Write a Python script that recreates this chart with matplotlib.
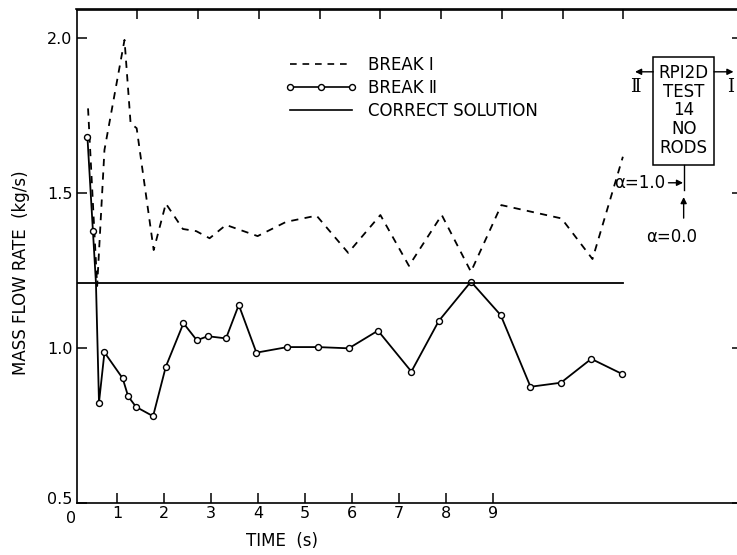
import matplotlib
matplotlib.use('Agg')
import matplotlib.pyplot as plt
import matplotlib.transforms as mtransforms
from matplotlib.lines import Line2D
from matplotlib.patches import Rectangle

plt.rcParams['font.family'] = 'DejaVu Sans'
plt.rcParams['font.size'] = 12

# Break I (dashed curve)
t_break1 = [0.19, 0.34, 0.46, 0.79, 0.89, 0.99, 1.27, 1.47, 1.75, 1.97, 2.19,
            2.46, 2.98, 3.45, 3.95, 4.47, 5.00, 5.47, 6.01, 6.49, 6.99, 7.98,
            8.49, 8.99]
m_break1 = [1.773, 1.20, 1.639, 1.994, 1.725, 1.709, 1.316, 1.466, 1.384, 1.377,
            1.354, 1.397, 1.361, 1.407, 1.427, 1.307, 1.429, 1.265, 1.429, 1.246,
            1.461, 1.418, 1.287, 1.617]

# Break II (solid with open circles)
t_break2 = [0.18, 0.27, 0.32, 0.37, 0.46, 0.76, 0.85, 0.98, 1.26, 1.47, 1.76,
            1.98, 2.16, 2.46, 2.67, 2.96, 3.47, 3.97, 4.48, 4.96, 5.51, 5.96,
            6.49, 6.98, 7.47, 7.97, 8.47, 8.98]
m_break2 = [1.68, 1.378, 1.21, 0.824, 0.986, 0.902, 0.844, 0.81, 0.78, 0.94, 1.08,
            1.025, 1.038, 1.031, 1.139, 0.985, 1.003, 1.003, 0.999, 1.056, 0.924,
            1.087, 1.214, 1.106, 0.875, 0.888, 0.965, 0.916]

# Correct solution
t_correct = [0.0, 9.0]
m_correct = [1.21, 1.21]

# bottom time scale labels
time_labels = ['0', '1', '2', '3', '4', '5', '6', '7', '8', '9']
bottom_offset = -0.097
bottom_step = 0.7716

W, H = 737, 555
fig = plt.figure(figsize=(W / 100, H / 100), dpi=100)
left_px, right_px, top_px, bot_px = 76.5, 742.0, 9.5, 503.0
ax = fig.add_axes([left_px / W, 1 - bot_px / H,
                   (right_px - left_px) / W, (bot_px - top_px) / H])

ax.plot(t_break1, m_break1, color='k', lw=1.3, dashes=(4, 3.5))
ax.plot(t_break2, m_break2, color='k', lw=1.3, marker='o', ms=4.3,
        mfc='white', mec='k', mew=1.0, markevery=[0, 1] + list(range(3, len(t_break2))))
ax.plot(t_correct, m_correct, color='k', lw=1.3)

ax.set_xlim(0, 10.95)
ax.set_ylim(0.5, 2.092)

# bottom ticks with time labels
pos = [bottom_offset + bottom_step * i for i in range(len(time_labels))]
ax.set_xticks(pos[1:], time_labels[1:])
ax.text(pos[0], -0.016, time_labels[0], transform=ax.get_xaxis_transform(),
        ha='center', va='top', fontsize=11.5)
ax.set_yticks([0.5, 1.0, 1.5, 2.0], ['0.5', '1.0', '1.5', '2.0'])
ax.tick_params(direction='in', length=7, width=1.1, labelsize=11.5,
               right=True, pad=3)
ax.tick_params(axis='x', pad=2)
# lift the lowest y label clear of the corner
lbl = ax.get_yticklabels()[0]
lbl.set_transform(lbl.get_transform() +
                  mtransforms.ScaledTranslation(0, 5 / 100, fig.dpi_scale_trans))

top = ax.secondary_xaxis('top')
top.set_xticks(range(1, 10))
top.tick_params(direction='in', length=7, width=1.1, labeltop=False)

for s in list(ax.spines.values()) + list(top.spines.values()):
    s.set_linewidth(1.2)

ax.set_xlabel('TIME  (s)', fontsize=12, labelpad=8, x=0.309)
ax.set_ylabel('MASS FLOW RATE  (kg/s)', fontsize=12, labelpad=12, y=0.466)

handles = [
    Line2D([], [], color='k', lw=1.2, dashes=(4, 3.5)),
    Line2D([], [], color='k', lw=1.2, marker='o', ms=4.3, mfc='white', mec='k'),
    Line2D([], [], color='k', lw=1.2),
]
ax.legend(handles, ['BREAK Ⅰ', 'BREAK Ⅱ', 'CORRECT SOLUTION'],
          loc='upper left', bbox_to_anchor=(277 / W, 1 - 48 / H),
          bbox_transform=fig.transFigure, frameon=False, borderpad=0,
          handlelength=4.3, handletextpad=0.68, labelspacing=0.3,
          numpoints=3, fontsize=12)

# test section sketch
ax.add_patch(Rectangle((9.49, 1.590), 1.0, 0.349, fill=False, lw=1.1, color='k'))
for txt, yy in zip(['RPI2D', 'TEST', '14', 'NO', 'RODS'],
                   [1.887, 1.826, 1.767, 1.707, 1.646]):
    ax.text(9.99, yy, txt, ha='center', va='center', fontsize=12)

arrow = dict(arrowstyle='-|>', lw=1.0, color='k', mutation_scale=9,
             shrinkA=0, shrinkB=0)
ax.annotate('', xy=(9.19, 1.891), xytext=(9.49, 1.891), arrowprops=arrow)
ax.annotate('', xy=(10.81, 1.891), xytext=(10.49, 1.891), arrowprops=arrow)
ax.text(9.19, 1.843, 'Ⅱ', ha='center', va='center', fontsize=13, family='DejaVu Serif')
ax.text(10.76, 1.843, 'I', ha='center', va='center', fontsize=13, family='DejaVu Serif')
ax.plot([9.99, 9.99], [1.590, 1.510], color='k', lw=1.0)
ax.annotate('', xy=(9.98, 1.533), xytext=(9.74, 1.533), arrowprops=arrow)
ax.text(9.69, 1.533, 'α=1.0', ha='right', va='center', fontsize=12)
ax.annotate('', xy=(9.99, 1.487), xytext=(9.99, 1.419), arrowprops=arrow)
ax.text(9.79, 1.358, 'α=0.0', ha='center', va='center', fontsize=12)

fig.savefig('out.png', dpi=100)
